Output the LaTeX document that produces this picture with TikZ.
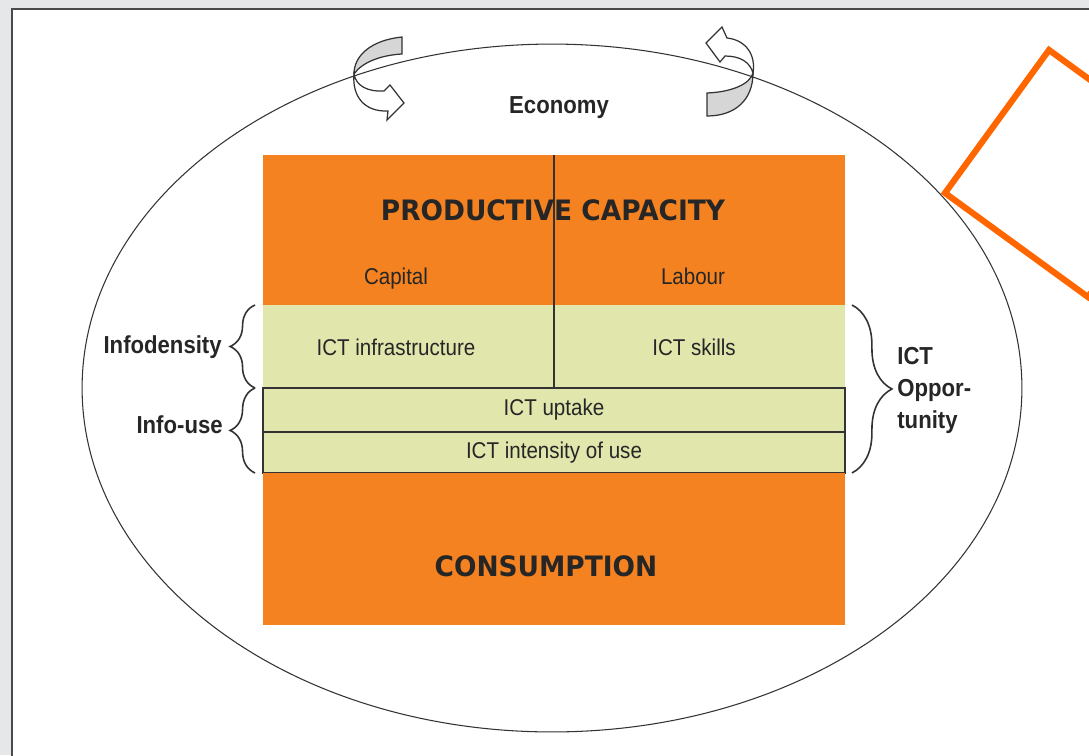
\documentclass[tikz,border=0pt]{standalone}
\usepackage{fontspec}
\setmainfont{Liberation Sans}
\newfontfamily\narrowsans[FakeStretch=0.9]{Liberation Sans}
\newfontfamily\headsans[FakeStretch=0.94]{DejaVu Sans}
\usetikzlibrary{positioning,decorations.pathreplacing}
\definecolor{pageback}{HTML}{E6E7E8}
\definecolor{framerim}{HTML}{4A4A4A}
\definecolor{prodorange}{HTML}{F58220}
\definecolor{ictgreen}{HTML}{E1E6AD}
\definecolor{cellline}{HTML}{333333}
\definecolor{textgray}{HTML}{262626}
\definecolor{bandgray}{HTML}{D6D6D6}
\definecolor{markorange}{HTML}{FF6600}
\tikzset{
  cell/.style={minimum width=11.64cm,inner sep=0pt,outer sep=0pt},
  orangecell/.style={cell,fill=prodorange},
  greencell/.style={cell,fill=ictgreen},
  linedcell/.style={greencell,draw=cellline,line width=0.8pt},
  smalltext/.style={font=\narrowsans\fontsize{13}{15}\selectfont,text=textgray,inner sep=0pt},
  sidetext/.style={font=\narrowsans\bfseries\fontsize{14}{18.3}\selectfont,text=textgray,inner sep=0pt},
  headtext/.style={font=\headsans\bfseries\fontsize{16}{19}\selectfont,text=textgray,inner sep=0pt},
  curly/.style={decorate,decoration={brace,amplitude=#1},draw=cellline,line width=0.9pt},
  band/.style={fill=bandgray,draw=cellline,line width=0.7pt},
  arrowbody/.style={fill=white,draw=cellline,line width=0.7pt}
}

\begin{document}
\begin{tikzpicture}[x=0.02cm,y=-0.02cm]
    \useasboundingbox (0,0) rectangle (1089,755);
    \clip (0,0) rectangle (1089,755);

    % page and frame
    \fill[pageback] (0,0) rectangle (1089,755);
    \filldraw[fill=white,draw=framerim,line width=1.6pt] (12,9) rectangle (1110,780);

    % turning arrows on the rim
    \filldraw[band] (402,37) .. controls (372,40) and (354,55) .. (354,74)
        .. controls (362,62) and (382,55) .. (402,54) -- cycle;
    \filldraw[arrowbody] (354,74) .. controls (356,86) and (368,92) .. (384,91)
        -- (390,85) -- (404,103) -- (387,120) -- (388,111)
        .. controls (364,112) and (352,96) .. (354,74) -- cycle;
    \filldraw[band] (707,93) .. controls (732,92) and (750,84) .. (753,73)
        .. controls (753,100) and (735,116) .. (707,116) -- cycle;
    \filldraw[arrowbody] (753,73) .. controls (750,62) and (740,56) .. (725,56)
        -- (720,62) -- (706,43) -- (722,27) -- (727,38)
        .. controls (746,40) and (756,55) .. (753,73) -- cycle;

    % economy
    \draw[cellline,line width=0.6pt] (552,388) ellipse [x radius=9.4cm,y radius=6.88cm];
    \node[sidetext,anchor=base] (economy) at (559,113) {Economy};

    % the block
    \node[orangecell,minimum height=3cm] (prod) at (554,230) {};
    \node[greencell,minimum height=1.66cm,below=0pt of prod] (dens) {};
    \node[linedcell,smalltext,minimum height=0.88cm,below=0pt of dens] (uptake) {ICT uptake};
    \node[linedcell,smalltext,minimum height=0.82cm,below=0pt of uptake] (intens) {ICT intensity of use};
    \node[orangecell,minimum height=3.04cm,below=0pt of intens] (cons) {};
    \draw[cellline,line width=0.9pt] (prod.north) -- (dens.south);

    \node[headtext] (prodtitle) at (553,210) {PRODUCTIVE CAPACITY};
    \node[headtext] (constitle) at (546,566) {CONSUMPTION};
    \node[smalltext,anchor=base] (capital) at (396,284) {Capital};
    \node[smalltext,anchor=base] (labour) at (693,284) {Labour};
    \node[smalltext,anchor=base] (infra) at (396,355) {ICT infrastructure};
    \node[smalltext,anchor=base] (skills) at (694,355) {ICT skills};

    % braces
    \draw[curly=0.5cm] ([xshift=-0.16cm]dens.south west) -- ([xshift=-0.16cm]dens.north west);
    \draw[curly=0.5cm] ([xshift=-0.16cm]intens.south west) -- ([xshift=-0.16cm]uptake.north west);
    \draw[curly=0.8cm] ([xshift=0.14cm]dens.north east) -- ([xshift=0.14cm]intens.south east);
    \node[sidetext,anchor=base east] (infodensity) at (222,353) {Infodensity};
    \node[sidetext,anchor=base east] (infouse) at (223,433) {Info-use};
    \node[sidetext,anchor=north west,align=left] (opportunity) at (897,347) {ICT\\Oppor-\\tunity};

    % orange marker
    \draw[markorange,line width=3.5pt,line join=miter] (945,193) -- (1049,50) -- (1192,154) -- (1088,297) -- cycle;
\end{tikzpicture}
\end{document}
